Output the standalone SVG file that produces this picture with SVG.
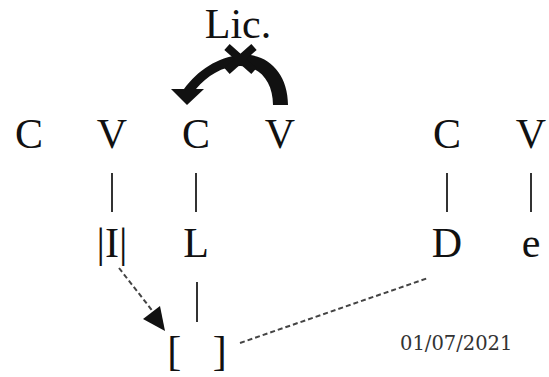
<svg xmlns="http://www.w3.org/2000/svg" width="549" height="377" viewBox="0 0 549 377">
  <defs>
    <style>
      .seg { font-family: "Liberation Serif", "Times New Roman", serif; font-size: 42px; fill: #111; text-anchor: middle; }
      .assoc { stroke: #333; stroke-width: 2; fill: none; }
      .dash { stroke: #444; stroke-width: 2; stroke-dasharray: 5 3; fill: none; }
      .date { font-family: "DejaVu Serif", serif; font-size: 19.5px; fill: #333; }
    </style>
  </defs>
  <rect width="549" height="377" fill="#fff"/>

  <!-- licensing label -->
  <g id="lic"><text class="seg" x="238" y="38">Lic.</text></g>

  <!-- skeletal tier -->
  <g id="c1"><text class="seg" x="29" y="148">C</text></g>
  <g id="v1"><text class="seg" x="112" y="148">V</text></g>
  <g id="c2"><text class="seg" x="196" y="148">C</text></g>
  <g id="v2"><text class="seg" x="280" y="148">V</text></g>
  <g id="c3"><text class="seg" x="447" y="148">C</text></g>
  <g id="v3"><text class="seg" x="531" y="148">V</text></g>

  <!-- melodic tier -->
  <g id="i"><text class="seg" x="112" y="257">|I|</text></g>
  <g id="l"><text class="seg" x="196" y="257">L</text></g>
  <g id="d"><text class="seg" x="447" y="257">D</text></g>
  <g id="e"><text class="seg" x="531" y="257">e</text></g>

  <!-- empty slot -->
  <g id="slot"><text class="seg" x="197" y="365" xml:space="preserve">[   ]</text></g>

  <g id="date"><text class="date" x="400" y="350">01/07/2021</text></g>

  <g id="connectors">
    <line class="assoc" x1="112" y1="173" x2="112" y2="212"/>
    <line class="assoc" x1="196" y1="173" x2="196" y2="212"/>
    <line class="assoc" x1="447" y1="173" x2="447" y2="212"/>
    <line class="assoc" x1="531" y1="173" x2="531" y2="212"/>
    <line class="assoc" x1="197" y1="282" x2="197" y2="322"/>

    <!-- dashed links to the empty slot -->
    <path class="dash" d="M119,268 L158,318"/>
    <path d="M165,331 L143,319 L160,306 z" fill="#111"/>
    <path class="dash" d="M240,343 L428,278"/>

    <!-- blocked licensing arc: tapered band with arrowhead, crossed out -->
    <path d="M288,105 C288,72 266,52 240,55 C218,57 198,70 184,89 L171,89 L187,105 L204,89 L196,89 C207,76 222,66 240,66 C260,66 273,82 273,105 Z" fill="#111"/>
    <path d="M227,47 L254,71 M227,71 L254,47" stroke="#111" stroke-width="8"/>
  </g>
</svg>
